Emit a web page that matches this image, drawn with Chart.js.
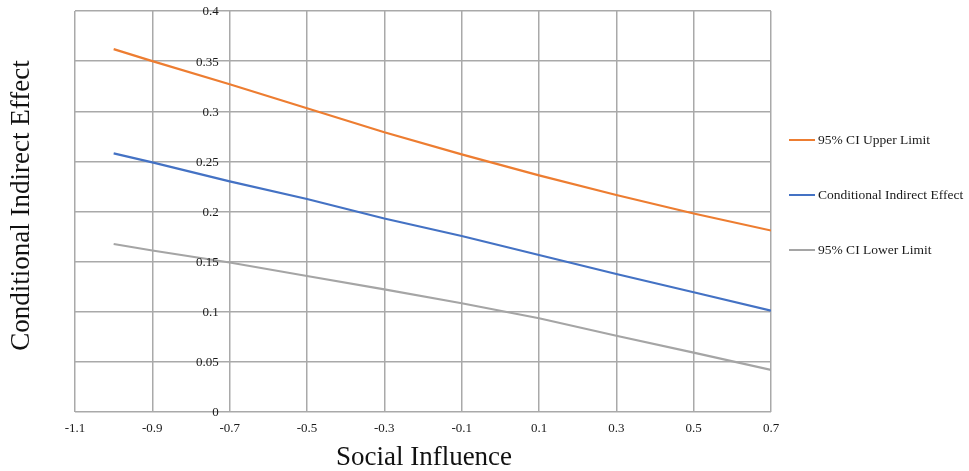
<!DOCTYPE html>
<html>
<head>
<meta charset="utf-8">
<script src="https://cdn.jsdelivr.net/npm/chart.js@4/dist/chart.umd.min.js"></script>
<style>
  html, body { margin: 0; padding: 0; background: #fff; }
  #wrap { width: 969px; height: 471px; position: relative; }
</style>
</head>
<body>
<div id="wrap"><canvas id="c" width="969" height="471"></canvas></div>
<script>
// Moderator values (Social Influence) at which the effect was evaluated
const socialInfluence = [-1.0, -0.9, -0.7, -0.5, -0.3, -0.1, 0.1, 0.3, 0.5, 0.7];

// Conditional indirect effect with its 95% confidence limits
const upperLimit   = [0.362, 0.350, 0.327, 0.303, 0.279, 0.257, 0.236, 0.2165, 0.198, 0.181];
const indirect     = [0.258, 0.249, 0.230, 0.2125, 0.193, 0.1756, 0.1566, 0.1377, 0.1194, 0.101];
const lowerLimit   = [0.1676, 0.1611, 0.1491, 0.1357, 0.1224, 0.1085, 0.0935, 0.0761, 0.0592, 0.0419];

// Axis ticks
const xTicks = [-1.1, -0.9, -0.7, -0.5, -0.3, -0.1, 0.1, 0.3, 0.5, 0.7];
const yTicks = [0, 0.05, 0.1, 0.15, 0.2, 0.25, 0.3, 0.35, 0.4];

const seriesNames = ['95% CI Upper Limit', 'Conditional Indirect Effect', '95% CI Lower Limit'];
const seriesColors = ['#ED7D31', '#4472C4', '#A5A5A5'];

const SERIF = '"Liberation Serif", "Times New Roman", serif';
const GRID = '#a9a9a9';

function toPoints(ys) {
  return socialInfluence.map((x, i) => ({ x: x, y: ys[i] }));
}

// Tick labels, axis titles and the legend, placed from the scales
const annotate = {
  id: 'annotate',
  afterDraw(chart) {
    const ctx = chart.ctx;
    const xs = chart.scales.x, ys = chart.scales.y;
    const area = chart.chartArea;
    ctx.save();
    ctx.fillStyle = '#1a1a1a';
    ctx.font = '13px ' + SERIF;

    // value labels sit beside the vertical axis crossing at -0.7
    const crossX = xs.getPixelForValue(-0.7);
    ctx.textAlign = 'right';
    ctx.textBaseline = 'middle';
    yTicks.forEach(v => {
      ctx.fillText(String(v), crossX - 11, ys.getPixelForValue(v) + 1);
    });

    // category labels under the plot
    ctx.textAlign = 'center';
    ctx.textBaseline = 'middle';
    xTicks.forEach(v => {
      ctx.fillText(String(v), xs.getPixelForValue(v), area.bottom + 17);
    });

    // axis titles
    ctx.fillStyle = '#111';
    ctx.font = '27px ' + SERIF;
    ctx.textAlign = 'center';
    ctx.textBaseline = 'alphabetic';
    ctx.fillText('Social Influence', 424, 465);
    ctx.save();
    ctx.translate(29, (area.top + area.bottom) / 2 - 6);
    ctx.rotate(-Math.PI / 2);
    ctx.fillText('Conditional Indirect Effect', 0, 0);
    ctx.restore();

    // legend
    ctx.font = '13.5px ' + SERIF;
    ctx.textAlign = 'left';
    ctx.textBaseline = 'middle';
    const legendY = [140, 195, 250];
    chart.data.datasets.forEach((ds, i) => {
      const y = legendY[i];
      ctx.strokeStyle = ds.borderColor;
      ctx.lineWidth = 2;
      ctx.beginPath();
      ctx.moveTo(789, y);
      ctx.lineTo(815, y);
      ctx.stroke();
      ctx.fillStyle = '#1a1a1a';
      ctx.fillText(ds.label, 818, y);
    });
    ctx.restore();
  }
};

new Chart(document.getElementById('c'), {
  type: 'line',
  data: {
    datasets: [
      { label: seriesNames[0], data: toPoints(upperLimit), borderColor: seriesColors[0] },
      { label: seriesNames[1], data: toPoints(indirect), borderColor: seriesColors[1] },
      { label: seriesNames[2], data: toPoints(lowerLimit), borderColor: seriesColors[2] }
    ].map(d => Object.assign(d, { borderWidth: 2.2, pointRadius: 0, fill: false, tension: 0 }))
  },
  options: {
    responsive: false,
    animation: false,
    layout: { padding: { left: 75, right: 198, top: 11, bottom: 59 } },
    plugins: { legend: { display: false }, tooltip: { enabled: false } },
    scales: {
      x: {
        type: 'linear',
        min: -1.1, max: 0.7,
        afterBuildTicks: s => { s.ticks = xTicks.map(v => ({ value: v })); },
        ticks: { display: false },
        grid: { color: GRID, lineWidth: 1.5, drawTicks: false },
        border: { display: false }
      },
      y: {
        min: 0, max: 0.4,
        afterBuildTicks: s => { s.ticks = yTicks.map(v => ({ value: v })); },
        ticks: { display: false },
        grid: { color: GRID, lineWidth: 1.5, drawTicks: false },
        border: { display: false }
      }
    }
  },
  plugins: [annotate]
});
</script>
</body>
</html>
